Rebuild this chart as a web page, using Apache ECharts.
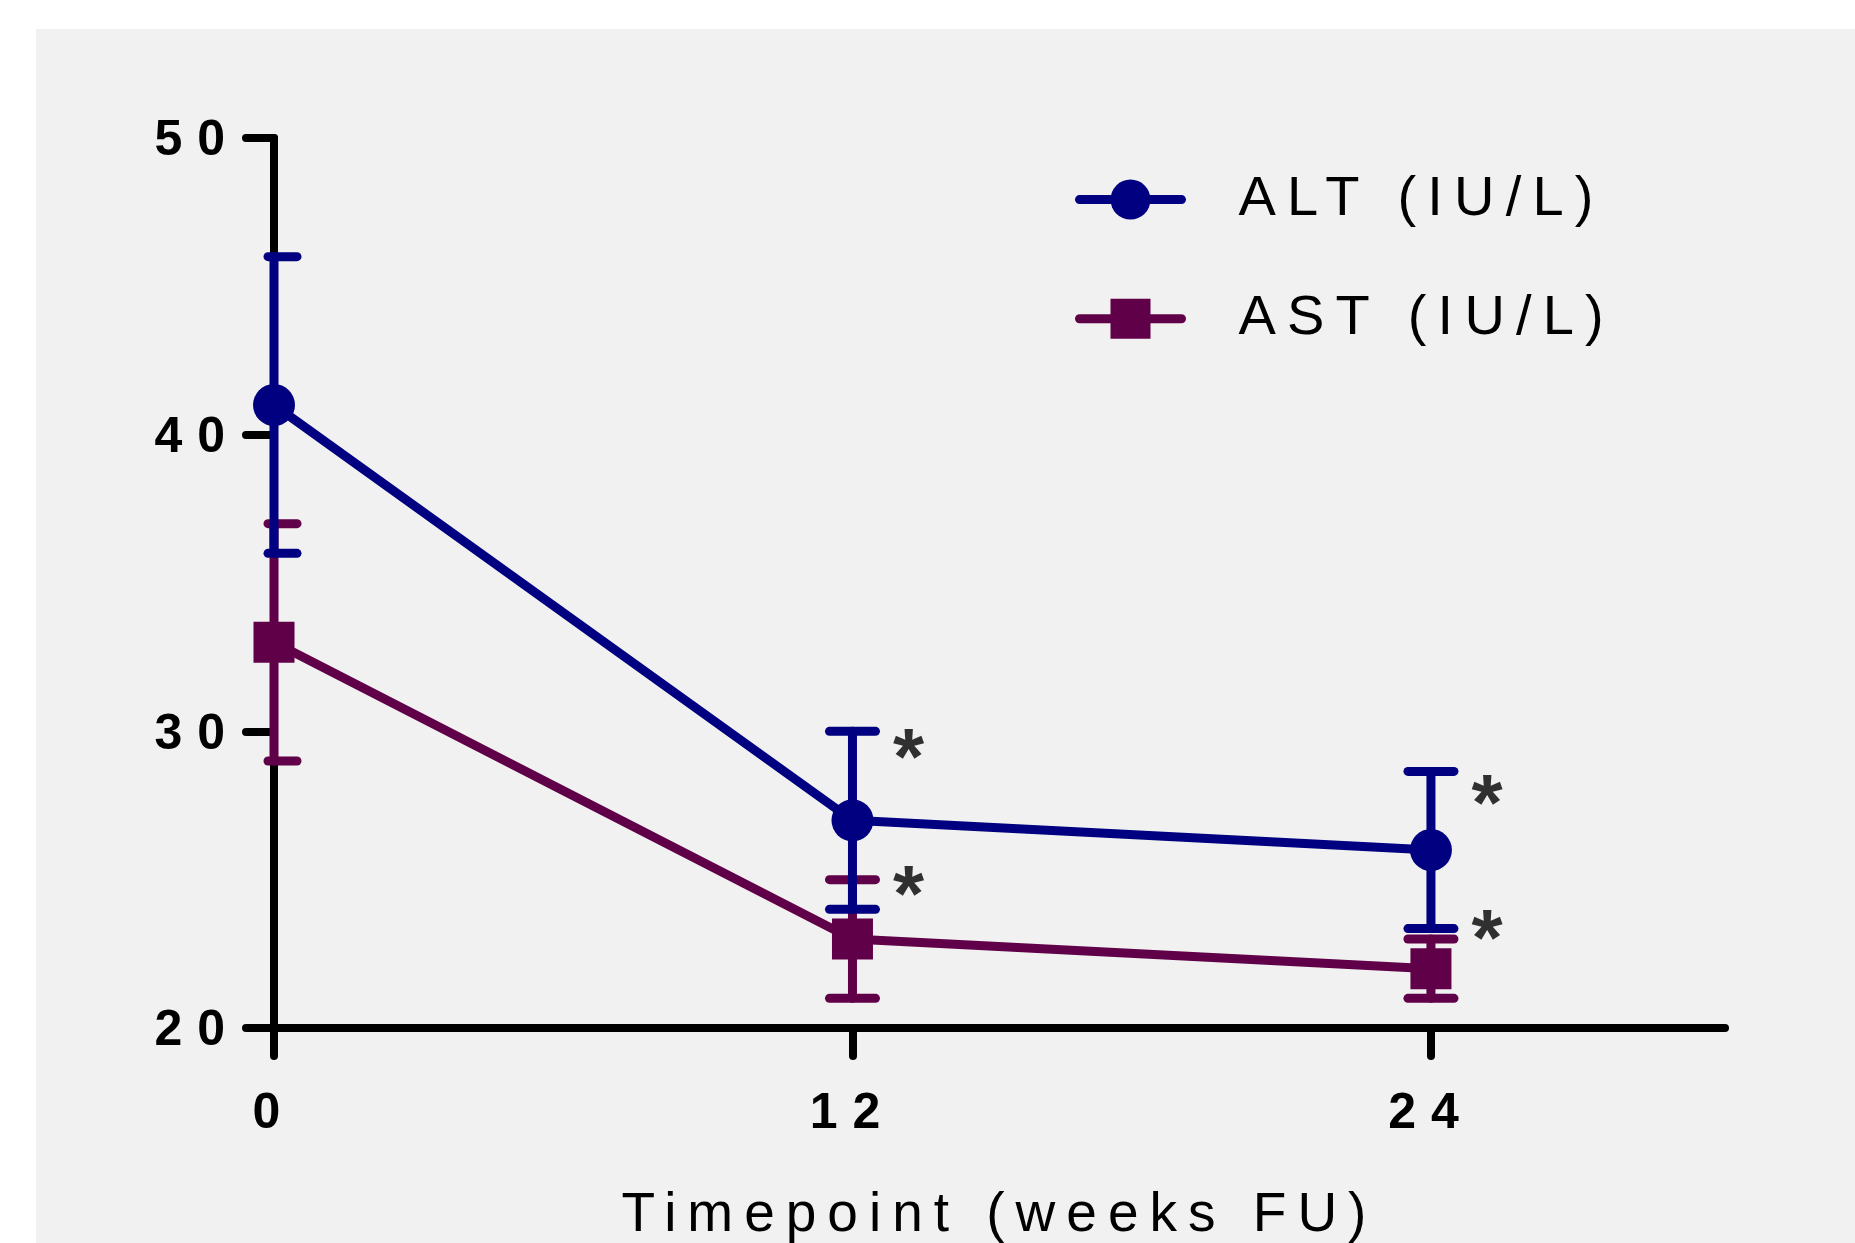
<!DOCTYPE html>
<html>
<head>
<meta charset="utf-8">
<title>ALT / AST over follow-up</title>
<script src="https://cdn.jsdelivr.net/npm/echarts@6/dist/echarts.min.js"></script>
<style>
    html, body { margin: 0; padding: 0; background: #ffffff; }
    #main { position: absolute; left: 36px; top: 29px; width: 1819px; height: 1214px; }
</style>
</head>
<body>
<div id="main"></div>
<script>
    // data (mean and error, IU/L)
    var weeks = [0, 12, 24];
    var xTicks = [0, 12, 24];
    var altMean = [41, 27, 26];
    var altErr = [5, 3, 2.65];
    var astMean = [33, 23, 22];
    var astErr = [4, 2, 1];
    // where the significance asterisks sit
    var altStars = [[12, 29.5], [24, 27.95]];
    var astStars = [[12, 24.9], [24, 23.4]];

    var NAVY = '#000080';
    var PLUM = '#600048';
    var FONT = '"Liberation Sans", Arial, sans-serif';

    // the original typesetting is letter-spaced; canvas can do that natively
    (function () {
        var proto = CanvasRenderingContext2D.prototype;
        if (!('letterSpacing' in proto)) return;
        function track(ctx) {
            var m = /(\d+(?:\.\d+)?)px/.exec(ctx.font);
            var size = m ? parseFloat(m[1]) : 12;
            var k = /bold|[6-9]00/.test(ctx.font) ? 0.3 : 0.2;
            ctx.letterSpacing = (size * k).toFixed(1) + 'px';
        }
        ['fillText', 'strokeText', 'measureText'].forEach(function (name) {
            var orig = proto[name];
            proto[name] = function () {
                track(this);
                return orig.apply(this, arguments);
            };
        });
    })();

    function errorBars(color) {
        return function (params, api) {
            var x = api.value(0), m = api.value(1), e = api.value(2);
            var hi = api.coord([x, m + e]);
            var lo = api.coord([x, m - e]);
            var half = 23;
            var left = Math.max(hi[0] - half, params.coordSys.x - 6);
            var style = { stroke: color, lineWidth: 9, lineCap: 'round' };
            return {
                type: 'group',
                children: [
                    { type: 'line', shape: { x1: hi[0], y1: hi[1], x2: lo[0], y2: lo[1] }, style: style },
                    { type: 'line', shape: { x1: left, y1: hi[1], x2: hi[0] + half, y2: hi[1] }, style: style },
                    { type: 'line', shape: { x1: left, y1: lo[1], x2: lo[0] + half, y2: lo[1] }, style: style }
                ]
            };
        };
    }

    function pairs(xs, ys, es) {
        return xs.map(function (x, i) {
            return es ? [x, ys[i], es[i]] : [x, ys[i]];
        });
    }

    function stars(data) {
        return {
            type: 'scatter',
            data: data,
            symbolSize: 1,
            itemStyle: { color: 'rgba(0,0,0,0)' },
            silent: true,
            label: {
                show: true,
                formatter: '*',
                position: 'inside',
                offset: [68, 16],
                color: '#000',
                fontFamily: FONT,
                fontWeight: 'bold',
                fontSize: 80
            }
        };
    }

    var myChart = echarts.init(document.getElementById('main'));
    var option = {
        backgroundColor: '#f1f1f1',
        animation: false,
        grid: {
            left: 238,
            top: 109,
            width: 1451,
            height: 890,
            outerBoundsMode: 'none'
        },
        legend: {
            data: ['ALT (IU/L)', 'AST (IU/L)'],
            orient: 'vertical',
            left: 1039,
            top: 137,
            padding: 0,
            itemWidth: 102,
            itemHeight: 50,
            itemGap: 52,
            lineStyle: { width: 9, cap: 'round' },
            textStyle: {
                fontFamily: FONT,
                fontSize: 56,
                lineHeight: 56,
                color: '#000',
                padding: [0, 0, 0, 52]
            }
        },
        xAxis: {
            type: 'value',
            min: 0,
            max: 30.1,
            name: 'Timepoint (weeks FU)',
            nameLocation: 'middle',
            nameGap: 155,
            nameTextStyle: {
                fontFamily: FONT,
                fontSize: 55,
                color: '#000'
            },
            splitLine: { show: false },
            axisLine: {
                onZero: false,
                lineStyle: { color: '#000', width: 8, cap: 'round' }
            },
            axisTick: {
                customValues: xTicks,
                length: 28,
                lineStyle: { color: '#000', width: 8, cap: 'round' }
            },
            axisLabel: {
                customValues: xTicks,
                margin: 54,
                fontFamily: FONT,
                fontWeight: 'bold',
                fontSize: 50,
                color: '#000'
            }
        },
        yAxis: {
            type: 'value',
            min: 20,
            max: 50,
            interval: 10,
            splitLine: { show: false },
            axisLine: {
                show: true,
                lineStyle: { color: '#000', width: 8, cap: 'round' }
            },
            axisTick: {
                show: true,
                length: 28,
                lineStyle: { color: '#000', width: 8, cap: 'round' }
            },
            axisLabel: {
                margin: 34,
                formatter: '{v|{value}}',
                rich: {
                    v: {
                        padding: [7, 0, 0, 0],
                        fontFamily: FONT,
                        fontWeight: 'bold',
                        fontSize: 50,
                        color: '#000'
                    }
                }
            }
        },
        series: [
            {
                name: 'AST error',
                type: 'custom',
                renderItem: errorBars(PLUM),
                data: pairs(weeks, astMean, astErr),
                encode: { x: 0, y: 1 },
                itemStyle: { color: PLUM },
                clip: false,
                silent: true
            },
            {
                name: 'AST (IU/L)',
                type: 'line',
                data: pairs(weeks, astMean),
                symbol: 'rect',
                symbolSize: 41,
                showAllSymbol: true,
                itemStyle: { color: PLUM },
                lineStyle: { color: PLUM, width: 9 }
            },
            {
                name: 'ALT error',
                type: 'custom',
                renderItem: errorBars(NAVY),
                data: pairs(weeks, altMean, altErr),
                encode: { x: 0, y: 1 },
                itemStyle: { color: NAVY },
                clip: false,
                silent: true
            },
            {
                name: 'ALT (IU/L)',
                type: 'line',
                data: pairs(weeks, altMean),
                symbol: 'circle',
                symbolSize: 42,
                showAllSymbol: true,
                itemStyle: { color: NAVY },
                lineStyle: { color: NAVY, width: 9 }
            },
            stars(altStars),
            stars(astStars)
        ]
    };
    myChart.setOption(option);
</script>
</body>
</html>
